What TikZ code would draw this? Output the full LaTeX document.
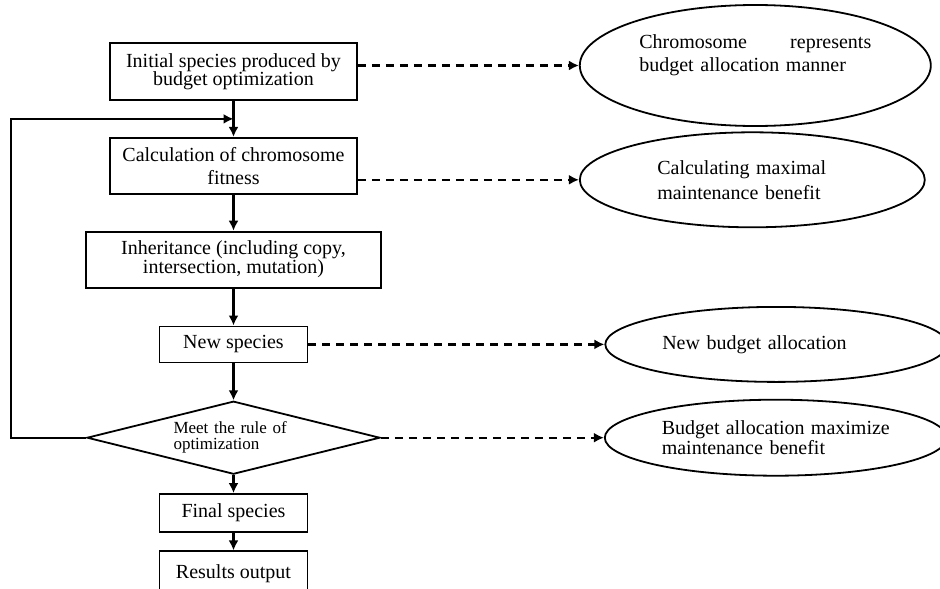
\documentclass[tikz,border=0pt]{standalone}
\usepackage{fontspec}
\setmainfont{Liberation Serif}
\usetikzlibrary{arrows.meta,positioning,shapes.geometric,calc}

\newcommand\fsz[2]{\fontsize{#1}{#2}\selectfont\lineskiplimit=-100pt}

\begin{document}
\begin{tikzpicture}[
    x=1pt, y=-1pt,
    font=\fsz{20}{23},
    stage/.style={
      rectangle,
      draw,
      line width=1.8pt,
      align=center,
      minimum width=148pt,
      minimum height=37pt
    },
    goal/.style={
      ellipse,
      draw,
      line width=1.8pt,
      inner sep=2pt,
      align=left
    },
    test/.style={
      diamond,
      draw,
      line width=1.8pt,
      aspect=4,
      inner sep=0pt,
      align=left
    },
    line/.style={draw, -{Latex[length=10pt,width=10pt]}, line width=2.2pt},
    link/.style={line, dash pattern=on 8pt off 6pt}
]
    \useasboundingbox (0,0) rectangle (940,589);

    % Nodes
    \node [stage, minimum width=247pt, minimum height=57pt, font=\fsz{20}{18}] (init) at (233.5,71.5)
      {Initial species produced by\\budget optimization};
    \node [stage, minimum width=247pt, minimum height=56pt, below=36pt of init] (calc)
      {Calculation of chromosome\\fitness};
    \node [stage, minimum width=295pt, minimum height=56pt, font=\fsz{20}{19}, below=36pt of calc] (inh)
      {Inheritance (including copy,\\intersection, mutation)};
    \node [stage, minimum height=36pt, below=37pt of inh] (newsp) {New species};
    \node [test, minimum width=293pt, minimum height=73pt, text width=120pt, font=\fsz{17}{16}, below=37pt of newsp] (dec)
      {Meet the rule of\\optimization};
    \node [stage, minimum height=38pt, below=18pt of dec] (fin) {Final species};
    \node [stage, minimum height=44pt, below=17.5pt of fin] (res) {Results output};

    \node [goal, minimum width=351pt, minimum height=121pt, text width=232pt, right=221pt of init, yshift=6pt] (chrom)
      {Chromosome\hfill represents\\budget allocation manner\rule[-24pt]{0pt}{0pt}};
    \node [goal, minimum width=345pt, minimum height=95pt, text width=190pt, font=\fsz{20}{25}, right=221pt of calc, yshift=-14pt] (fit)
      {Calculating maximal\\maintenance benefit};
    \node [goal, minimum width=342pt, minimum height=75pt, text width=228pt, right=296pt of newsp] (alloc)
      {New budget allocation};
    \node [goal, minimum width=342pt, minimum height=76pt, text width=228pt, font=\fsz{20}{20}, right=223pt of dec] (best)
      {Budget\hfill allocation\hfill maximize\\maintenance benefit};

    \coordinate (join) at ($(init.south)!0.5!(calc.north)$);

    % Edges
    \path [line] (init) -- (calc);
    \path [line] (calc) -- (inh);
    \path [line] (inh) -- (newsp);
    \path [line] (newsp) -- (dec);
    \path [line] (dec) -- (fin);
    \path [line] (fin) -- (res);
    \path [line] (dec.west) -- ++(-75,0) |- (join);

    % Explanations
    \path [link] (init.east |- chrom.west) -- (chrom.west);
    \path [link] (calc.east |- fit.west) -- (fit.west);
    \path [link] (newsp) -- (alloc);
    \path [link] (dec) -- (best);

\end{tikzpicture}
\end{document}
